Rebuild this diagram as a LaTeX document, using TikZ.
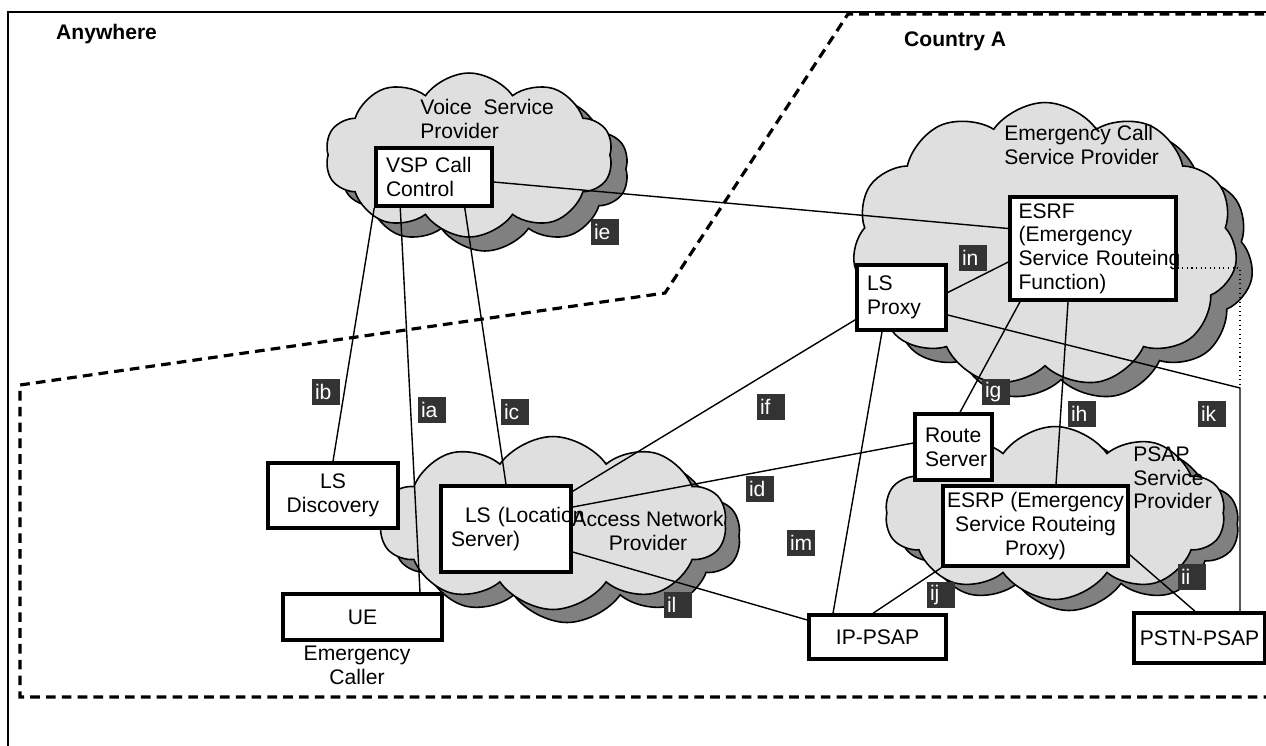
\documentclass[tikz,border=0pt]{standalone}
\usepackage{fontspec}
\setmainfont{Liberation Sans}
\usetikzlibrary{shapes.symbols}

\begin{document}
\begin{tikzpicture}[x=0.02cm, y=-0.02cm,
    every node/.style={font=\fontsize{12}{13.5}\selectfont},
    box/.style={draw, line width=2pt, fill=white, inner xsep=0.2cm, inner ysep=2pt,
        execute at begin node={\hyphenpenalty=10000\exhyphenpenalty=10000}},
    netcloud/.style={cloud, cloud puffs=10, cloud puff arc=110, cloud ignores aspect, draw, line width=0.9pt, fill=gray!25, inner sep=0pt},
    cloudshade/.style={netcloud, fill=gray},
    iflabel/.style={fill=black!80, text=white, inner xsep=0.06cm, inner ysep=0pt, text width=0.44cm, minimum height=0.52cm, align=left},
    conn/.style={line width=0.8pt},
    zone/.style={line width=1.8pt, dash pattern=on 5.5pt off 3.5pt}]
        \useasboundingbox (0,0) rectangle (1266,745);
        % frame and zones
        \draw[line width=1pt] (8,760) -- (8,12) -- (1280,12);
        \draw[zone] (1280,14) -- (848,14) -- (665,293) -- (20,385) -- (20,697) -- (1280,697);
        \node[font=\fontsize{12}{13.5}\selectfont\bfseries, anchor=west] (anywhere) at (50,34) {Anywhere};
        \node[font=\fontsize{12}{13.5}\selectfont\bfseries, anchor=west] (countryA) at (898,41) {Country A};

        % clouds
        \node[cloudshade, minimum width=5.76cm, minimum height=3.28cm] (vspShade) at (485,169) {};
        \node[netcloud, minimum width=5.76cm, minimum height=3.28cm] (vspCloud) at (469,155) {};
        \node[cloudshade, cloud puffs=11, minimum width=7.7cm, minimum height=5.7cm] (ecspShade) at (1061,259) {};
        \node[netcloud, cloud puffs=11, minimum width=7.7cm, minimum height=5.7cm] (ecspCloud) at (1045,245) {};
        \node[cloudshade, minimum width=6.94cm, minimum height=3.46cm] (anShade) at (567,536) {};
        \node[netcloud, minimum width=6.94cm, minimum height=3.46cm] (anCloud) at (553,523) {};
        \node[cloudshade, minimum width=6.8cm, minimum height=3.46cm] (psapShade) at (1069,524) {};
        \node[netcloud, minimum width=6.8cm, minimum height=3.46cm] (psapCloud) at (1055,513) {};

        \node[anchor=west, align=left, inner sep=0pt] (vspText) at (420,119) {Voice\ \ Service\\Provider};
        \node[anchor=west, align=left, inner sep=0pt] (ecspText) at (1004,145) {Emergency Call\\Service Provider};
        \node[align=center, inner sep=0pt] (anText) at (648,531) {Access Network\\Provider};
        \node[anchor=west, align=left, inner sep=0pt] (psapText) at (1133,478) {PSAP\\Service\\Provider};

        % boxes
        \node[box, text width=1.92cm, minimum height=1.16cm, align=left] (vsp) at (434,177) {VSP~Call\\Control};
        \node[box, text width=2.98cm, inner xsep=0.17cm, minimum height=2.06cm, align=left] (esrf) at (1093,248.5) {ESRF\\(Emergency\\Service~Routeing\\Function)};
        \node[box, text width=1.38cm, minimum height=1.3cm, align=left] (lsproxy) at (901.5,297.5) {LS\\Proxy};
        \node[box, minimum width=2.6cm, minimum height=1.3cm, align=center] (lsdisc) at (333,495.5) {LS\\Discovery};
        \node[box, text width=2.2cm, minimum height=1.72cm, align=left] (ls) at (506,529) {\hspace*{0.28cm}LS~(Location\\Server)};
        \node[box, minimum width=3.18cm, minimum height=0.92cm, align=center] (ue) at (362.5,617) {UE};
        \node[box, text width=1.14cm, minimum height=1.32cm, align=left] (route) at (953.5,447) {Route\\Server};
        \node[box, minimum width=3.7cm, minimum height=1.6cm, inner xsep=2pt, align=center] (esrp) at (1035.5,526) {ESRP (Emergency\\Service Routeing\\Proxy)};
        \node[box, minimum width=2.74cm, minimum height=0.88cm, align=center] (ippsap) at (877.5,637) {IP-PSAP};
        \node[box, minimum width=2.62cm, minimum height=1.0cm, inner xsep=2pt, align=center] (pstn) at (1199.5,638) {PSTN-PSAP};
        \node[align=center, inner sep=0pt] (caller) at (357,665) {Emergency\\Caller};
        \coordinate (ikTurn) at (1240,388);

        % connections
        \draw[conn] ([yshift=-0.1cm]vsp.east) -- ([yshift=0.4cm]esrf.west);
        \draw[conn] (vsp.south west) -- (lsdisc.north);
        \draw[conn] ([xshift=0.52cm]vsp.south west) -- ([xshift=1.15cm]ue.north);
        \draw[conn] ([xshift=-0.58cm]vsp.south east) -- (ls.north);
        \draw[conn] ([yshift=0.24cm]lsproxy.south west) -- ([yshift=-0.14cm]ls.north east);
        \draw[conn] ([yshift=0.1cm]lsproxy.east) -- ([yshift=-0.27cm]esrf.west);
        \draw[conn] ([xshift=-0.39cm]lsproxy.south) -- ([xshift=-0.89cm]ippsap.north);
        \draw[conn] ([yshift=-0.35cm]lsproxy.east) -- (ikTurn) -- (ikTurn |- pstn.north);
        \draw[line width=0.6pt, dotted] ([yshift=-0.39cm]esrf.east) -| (ikTurn);
        \draw[conn] ([xshift=-1.46cm]esrf.south) -- ([xshift=0.13cm]route.north);
        \draw[conn] ([xshift=-0.5cm]esrf.south) -- ([xshift=0.41cm]esrp.north);
        \draw[conn] ([yshift=0.44cm]ls.east) -- ([yshift=0.08cm]route.west);
        \draw[conn] ([yshift=-0.46cm]ls.east) -- ([yshift=0.34cm]ippsap.west);
        \draw[conn] (esrp.south west) -- ([xshift=-0.09cm]ippsap.north);
        \draw[conn] ([yshift=0.26cm]esrp.south east) -- ([xshift=-0.09cm]pstn.north);

        % interface labels
        \node[iflabel] (lbIe) at (605,232) {ie};
        \node[iflabel] (lbIn) at (973,258) {in};
        \node[iflabel] (lbIb) at (326,392) {ib};
        \node[iflabel] (lbIa) at (432,410) {ia};
        \node[iflabel] (lbIc) at (515,412) {ic};
        \node[iflabel] (lbIf) at (771,407) {if};
        \node[iflabel] (lbIg) at (996,392) {ig};
        \node[iflabel] (lbIh) at (1082,414) {ih};
        \node[iflabel] (lbIk) at (1212,414) {ik};
        \node[iflabel] (lbId) at (760,489) {id};
        \node[iflabel] (lbIm) at (801,543) {im};
        \node[iflabel] (lbIl) at (678,605) {il};
        \node[iflabel] (lbIj) at (941,595) {ij};
        \node[iflabel] (lbIi) at (1192,577) {ii};
    \end{tikzpicture}
\end{document}
